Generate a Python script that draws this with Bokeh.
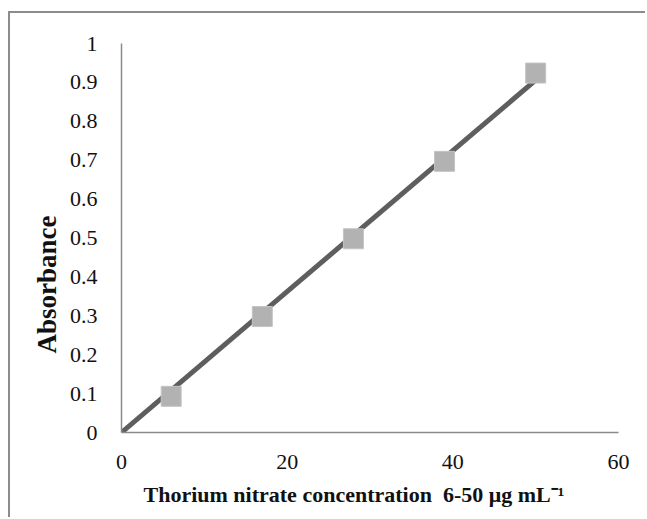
import numpy as np
from bokeh.plotting import figure
from bokeh.models import Range1d, FixedTicker, Title
from bokeh.embed import file_html
from bokeh.resources import INLINE

# ---- data ----
conc = [6, 17, 28, 39, 50]
absorbance = [0.093, 0.298, 0.498, 0.697, 0.924]
x_ticks = [0, 20, 40, 60]
y_ticks = [0, 0.1, 0.2, 0.3, 0.4, 0.5, 0.6, 0.7, 0.8, 0.9, 1]
y_tick_labels = ["0", "0.1", "0.2", "0.3", "0.4", "0.5", "0.6", "0.7", "0.8", "0.9", "1"]
x_title = "Thorium nitrate concentration \u00a06-50 \u03bcg mL\u207b\u00b9"
y_title = "Absorbance"

# linear trendline through the origin
xa = np.array(conc, dtype=float)
ya = np.array(absorbance, dtype=float)
slope = float(np.dot(xa, ya) / np.dot(xa, xa))
fit_x = [0.0, float(xa.max())]
fit_y = [0.0, slope * float(xa.max())]

FONT = "Liberation Serif"

p = figure(width=637, height=506, x_range=Range1d(0, 60), y_range=Range1d(0, 1),
           output_backend="svg", toolbar_location=None,
           min_border_left=111, min_border_right=29, min_border_top=30, min_border_bottom=87,
           margin=(11, 0, 0, 8),
           styles={"border-left": "2px solid #8c8c8c", "border-top": "2px solid #8c8c8c"})
p.outline_line_color = None
p.grid.grid_line_color = None
p.background_fill_color = "white"
p.border_fill_color = "white"

for ax in (p.xaxis[0], p.yaxis[0]):
    ax.axis_line_color = "#8a8a8a"
    ax.axis_line_width = 1.5
    ax.major_tick_line_color = None
    ax.minor_tick_line_color = None
    ax.major_label_text_font = FONT
    ax.major_label_text_font_size = "22px"
    ax.major_label_text_color = "#111111"

p.xaxis[0].ticker = FixedTicker(ticks=x_ticks)
p.xaxis[0].major_label_standoff = 16
p.yaxis[0].ticker = FixedTicker(ticks=y_ticks)
p.yaxis[0].major_label_overrides = {t: s for t, s in zip(y_ticks, y_tick_labels)}
p.yaxis[0].major_label_standoff = 18

p.line(fit_x, fit_y, line_color="#5e5e5e", line_width=5)
p.scatter(conc, absorbance, marker="square", size=20, fill_color="#b2b2b2",
          line_color="#c4c4c4", line_width=1)

p.add_layout(Title(text=x_title, text_font=FONT, text_font_size="22px",
                   text_font_style="bold", align="left", offset=22, standoff=17,
                   text_color="#111111"), "below")
p.add_layout(Title(text=y_title, text_font=FONT, text_font_size="27px",
                   text_font_style="bold", align="left", offset=79, standoff=9,
                   text_color="#111111"), "left")

open("out.html", "w").write(file_html(p, INLINE))
